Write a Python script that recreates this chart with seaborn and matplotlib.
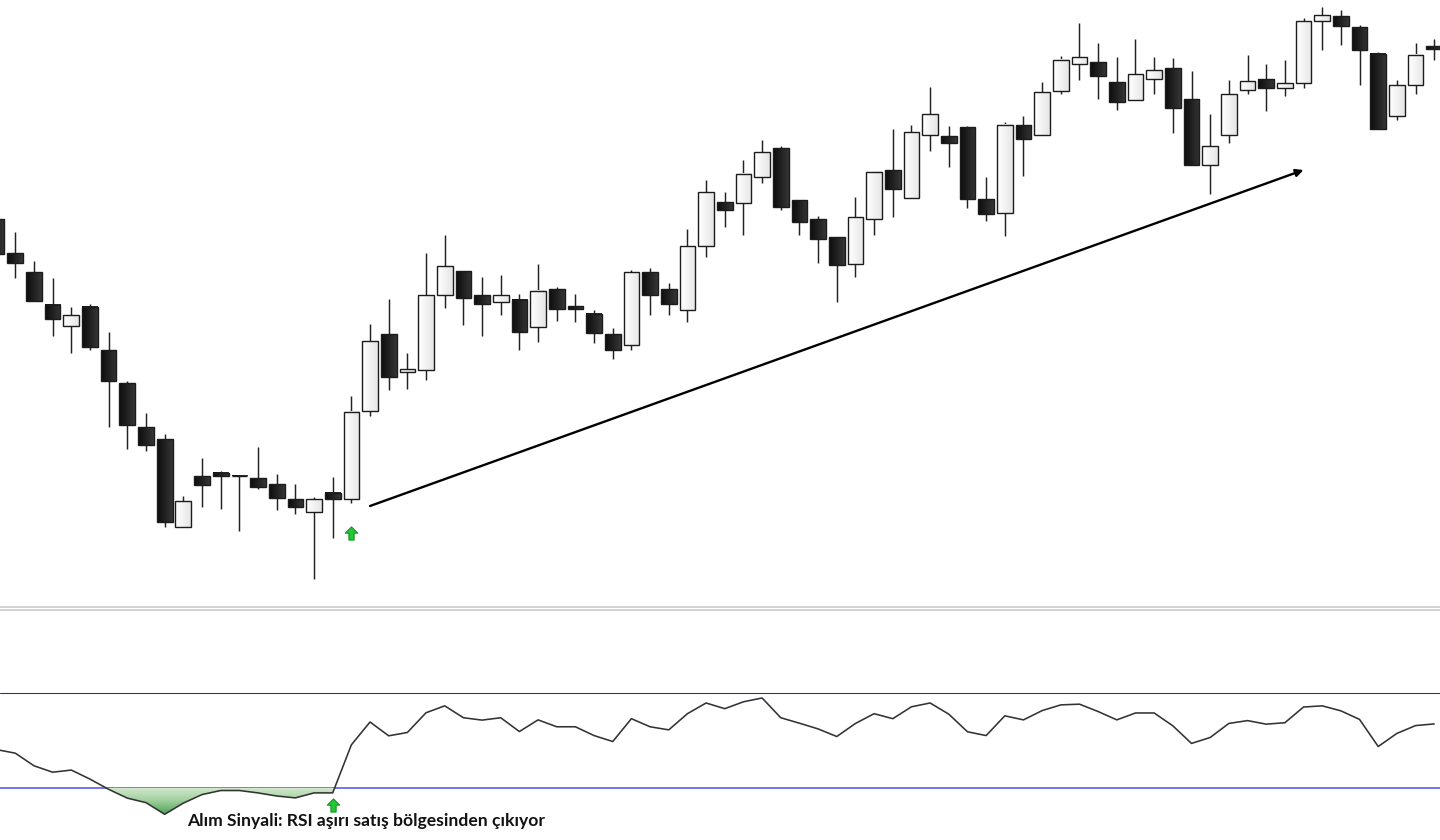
import matplotlib
matplotlib.use('Agg')
import matplotlib.pyplot as plt
from matplotlib.path import Path
import numpy as np
import seaborn as sns

sns.set_style('white')
plt.rcParams['font.family'] = ['Lato', 'Noto Sans', 'DejaVu Sans']

# fiyat verisi
opens = [381, 346.7, 327.7, 295.3, 273.7, 293.3, 250, 216.7, 173.3, 160.7, 72.7, 124, 127,
         124.3, 122, 116, 100.7, 87.7, 107.3, 100.7, 188.7, 265.7, 228.3, 230.3, 305, 328.7,
         305.3, 298.3, 300.3, 272.7, 311, 293.7, 285.7, 265.7, 255, 327.7, 311, 290.3, 354.3,
         397.7, 396.7, 423.3, 451.7, 399.7, 381, 363.3, 335.7, 380.7, 430, 401.7, 465.3, 463.7,
         472.7, 400.7, 386.7, 475.3, 465.3, 508.7, 536.3, 537.7, 517.7, 500, 521.3, 531.7,
         500.7, 434.7, 465.3, 509.7, 520.7, 512.3, 516.7, 578.7, 583.7, 572.7, 546.3, 484.3,
         514.7, 554]
closes = [346.3, 336.7, 299.3, 280.7, 284.7, 253, 219.3, 175.3, 155.3, 78.3, 98.7, 115, 123.7,
          123.7, 113, 102.3, 93.3, 100.7, 100.7, 188, 258.7, 222.7, 230.7, 305.3, 333.7, 302.3,
          296.3, 305.3, 267.7, 309, 291.3, 291.3, 266.7, 250, 327.7, 305.3, 296.3, 354.3, 407.7,
          390.3, 426.3, 447.7, 393.3, 378, 361.3, 335.3, 382.7, 428.3, 411.3, 467.7, 486.3,
          457.3, 400.7, 385.7, 475.3, 461.3, 507.7, 540.3, 542.7, 524.3, 498, 525.7, 529.7, 492,
          435, 453.7, 506, 518.7, 511.7, 516.7, 578.7, 584.7, 573.7, 550, 470.7, 514.7, 545.3,
          551]
highs = [381, 368.3, 339, 322, 292.7, 295.7, 268, 218.7, 186.7, 165.7, 104, 142, 129.3,
         124.7, 152.7, 126.3, 116.3, 102.7, 123.3, 203.7, 276, 301.3, 247.3, 347, 364.7, 328.7,
         323, 325, 305.7, 335.7, 313.3, 305.7, 289.7, 271.7, 329.7, 331.7, 317, 370.7, 420.3,
         408, 440.3, 460, 454, 399.7, 383.7, 363.3, 403, 428.3, 470.7, 474.7, 513, 473.7, 474,
         423.3, 477.7, 483.7, 517.7, 543.7, 577, 556.7, 543, 561.3, 542.7, 541.7, 529, 485.7,
         520, 544.7, 535.7, 539.7, 581.7, 593, 590, 575, 548.3, 520, 556.7, 560.7]
lows = [346.3, 322.3, 299.3, 264.3, 246.7, 249.7, 173.3, 151.3, 149.3, 72.7, 72.7, 93.3, 91.3,
        68.7, 110.7, 90.3, 86.3, 21.3, 61.7, 97.3, 183.7, 210.3, 211.3, 220.3, 291.7, 275.3,
        264.3, 285, 249.7, 257.7, 279.3, 278.3, 256.7, 240.7, 249.7, 285.3, 285.3, 278.3, 343.3,
        372.7, 365, 417.3, 390.3, 364.7, 337.3, 297.7, 323.3, 364.7, 382.7, 401.7, 449.3, 433.3,
        392.3, 378.7, 364, 424, 465.3, 506.3, 520, 500.7, 489.7, 500, 506.3, 467.3, 435, 406.3,
        457.3, 506.3, 489, 504.3, 512.3, 549.7, 554.7, 515.3, 470.7, 480, 506.3, 540]

# RSI verisi
rsi = [46.1, 44.6, 39.3, 36.6, 37.5, 33.7, 29.4, 25.7, 23.8, 18.9, 23.6, 27.2, 28.9, 28.9, 27.9,
       26.6, 25.8, 27.9, 27.9, 48.1, 57.7, 51.9, 53.3, 61.6, 64.5, 59.5, 58.5, 59.5, 53.7, 58.6,
       55.7, 55.7, 52.0, 49.5, 59.1, 55.7, 54.4, 61.2, 65.7, 63.3, 66.2, 67.8, 59.5, 57.2, 54.8,
       51.6, 57.1, 61.2, 59.1, 64.1, 65.7, 61.0, 53.6, 52.0, 60.3, 58.6, 62.5, 64.9, 65.2, 62.1,
       58.6, 61.5, 61.5, 56.1, 48.7, 51.2, 57.1, 58.3, 56.8, 57.4, 64.0, 64.5, 62.4, 58.8, 47.4,
       52.9, 56.2, 56.9]
rsi_upper = 70
rsi_lower = 30

trend_start = (20, 94)
trend_end = (70, 430)
buy_price = (19, 67)
buy_rsi = (18, 23)
signal_text = 'Alım Sinyali: RSI aşırı satış bölgesinden çıkıyor'

bars = np.arange(len(opens))
body_w = 0.84
arrow_path = Path([(-0.4, -1), (0.4, -1), (0.4, 0.05), (0.95, 0.05), (0, 1), (-0.95, 0.05), (-0.4, 0.05), (-0.4, -1)], closed=True)

fig = plt.figure(figsize=(14.4, 8.4), dpi=100)
ax = fig.add_axes([0, 233 / 840, 1, 607 / 840])
ax2 = fig.add_axes([0, 0, 1, 230.5 / 840])

dark_grad = np.linspace(0.05, 0.21, 32).reshape(1, -1)
light_grad = np.linspace(1.0, 0.9, 32).reshape(1, -1)

# mumlar
ax.vlines(bars, lows, highs, color='#222222', lw=1.05, zorder=1)
for i in bars:
    top = max(opens[i], closes[i])
    bot = min(opens[i], closes[i])
    grad = light_grad if closes[i] >= opens[i] and i != 18 else dark_grad
    ax.imshow(grad, cmap='gray', vmin=0, vmax=1, aspect='auto', zorder=2,
              extent=[i - body_w / 2, i + body_w / 2, bot, top])
    ax.bar(i, top - bot, bottom=bot, width=body_w, facecolor='none', edgecolor='#1c1c1c', lw=1.0, zorder=3)

ax.annotate('', xy=trend_end, xytext=trend_start,
            arrowprops=dict(arrowstyle='-|>', color='black', lw=1.7, mutation_scale=11, shrinkA=0, shrinkB=0))
ax.plot(*buy_price, marker=arrow_path, ms=9.5, mfc='#22c733', mec='#128a20', mew=0.7, zorder=5)

ax.set_xlim(0.18, 77.31)
ax.set_ylim(-7, 600)

# RSI paneli
ax2.axhline(rsi_upper, color='#30308f', lw=0.8, zorder=1)
ax2.axhline(rsi_lower, color='#5050e0', lw=1.1, zorder=1)

fill = ax2.fill_between(bars, rsi, rsi_lower, where=np.array(rsi) <= rsi_lower, interpolate=True,
                        facecolor='none', edgecolor='none')
green = ax2.imshow(np.linspace(0, 1, 64).reshape(-1, 1), cmap=sns.blend_palette(['#d5e9d0', '#9fd09c', '#4fa259'], as_cmap=True),
                   aspect='auto', zorder=2, extent=[5, 19, min(rsi), rsi_lower])
green.set_clip_path(fill.get_paths()[0], transform=ax2.transData)

sns.lineplot(x=bars, y=rsi, ax=ax2, color='#333333', lw=1.15, zorder=3)
ax2.plot(*buy_rsi, marker=arrow_path, ms=9.5, mfc='#22c733', mec='#128a20', mew=0.7, zorder=5)
ax2.text(10.2, 15.9, signal_text, fontsize=12.6, fontweight='bold', color='#111111', va='center', ha='left')

ax2.set_xlim(0.18, 77.31)
ax2.set_ylim(8.1, 105)

# eksen temizligi
for a in [ax, ax2]:
    a.set_xticks([])
    a.set_yticks([])
    a.set_xlabel('')
    a.set_ylabel('')
    for s in a.spines.values():
        s.set_visible(False)
ax.spines['bottom'].set_visible(True)
ax.spines['bottom'].set_color('#cfcfcf')
ax.spines['bottom'].set_linewidth(1.3)
ax2.spines['top'].set_visible(True)
ax2.spines['top'].set_color('#cfcfcf')
ax2.spines['top'].set_linewidth(1.3)

fig.savefig('out.png', dpi=100, facecolor='white')
